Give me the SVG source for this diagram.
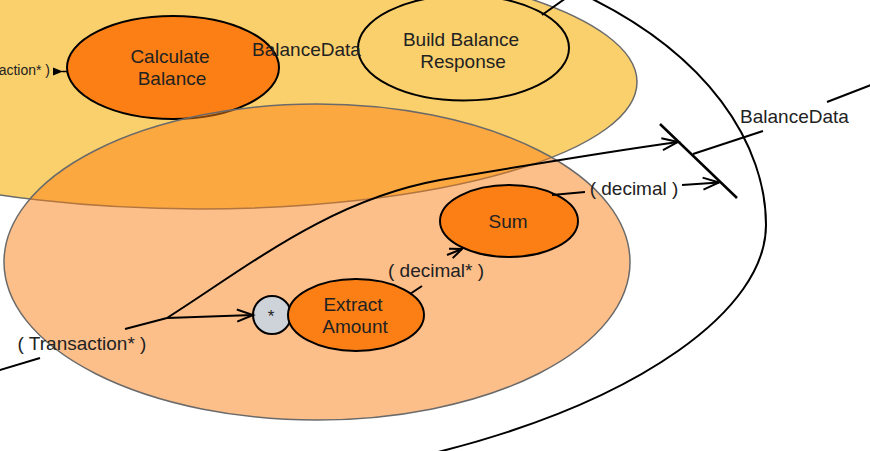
<svg xmlns="http://www.w3.org/2000/svg" width="870" height="451" viewBox="0 0 870 451">
<defs>
<style>
.t{font-family:"Liberation Sans",Arial,sans-serif;font-size:19px;fill:#222;text-anchor:middle}
.node{stroke:#000;stroke-width:2}
.orange{fill:#FC7F15}
.group{stroke:#6a6a6a;stroke-width:1.5}
.c{fill:none;stroke:#000;stroke-width:2}
</style>
<marker id="chev" viewBox="0 0 18 14" refX="17" refY="7" markerWidth="18" markerHeight="14" markerUnits="userSpaceOnUse" orient="auto" overflow="visible">
<path d="M1,1 L17,7 L1,13" fill="none" stroke="#000" stroke-width="2"/>
</marker>
<marker id="chevs" viewBox="0 0 14 12" refX="13" refY="6" markerWidth="14" markerHeight="12" markerUnits="userSpaceOnUse" orient="auto" overflow="visible">
<path d="M1,1 L13,6 L1,11" fill="none" stroke="#000" stroke-width="2"/>
</marker>
</defs>
<rect width="870" height="451" fill="#fff"/>
<g id="outer">
<path d="M560,-16 C715,50 766,150 766,225 C766,310 640,400 442,451 L300,488" fill="#fff" stroke="#000" stroke-width="2"/>
</g>
<g id="group-balance">
<ellipse cx="200" cy="82" rx="437" ry="127" fill="#FAD06C" class="group"/>
<text class="t" x="50" y="75" style="font-size:14px;text-anchor:end">action* )</text>
<polygon points="53,67.5 63,71.5 53,75.5" fill="#000"/>
<line x1="62" y1="71.5" x2="68" y2="71.5" stroke="#000" stroke-width="1.5"/>
</g>
<g id="node-calc">
<ellipse cx="173" cy="67.5" rx="106" ry="51.5" class="node orange"/>
<text class="t" x="170" y="63">Calculate</text>
<text class="t" x="172" y="85">Balance</text>
</g>
<g id="node-build">
<ellipse cx="463.5" cy="48" rx="105.5" ry="52.5" class="node" fill="#FAD06C"/>
<text class="t" x="461" y="46">Build Balance</text>
<text class="t" x="463" y="68">Response</text>
</g>
<text class="t" x="306.5" y="56">BalanceData</text>
<g id="group-calc">
<ellipse cx="317" cy="262" rx="313" ry="158" fill="#FC7F15" fill-opacity="0.5" class="group"/>
</g>
<g id="node-star">
<circle cx="272" cy="315" r="19" class="node" fill="#CED3DA"/>
<text class="t" x="271" y="322" style="font-size:17px">*</text>
</g>
<g id="node-extract">
<ellipse cx="356" cy="315" rx="68" ry="36" class="node orange"/>
<text class="t" x="353" y="311">Extract</text>
<text class="t" x="355" y="333">Amount</text>
</g>
<g id="node-sum">
<ellipse cx="509" cy="221" rx="69" ry="36" class="node orange"/>
<text class="t" x="508" y="228">Sum</text>
</g>
<g id="connectors">
<line x1="-20" y1="376" x2="40" y2="358" class="c"/>
<text class="t" x="82" y="350">( Transaction* )</text>
<line x1="125" y1="329" x2="167" y2="318" class="c"/>
<line x1="167" y1="318" x2="253" y2="315" class="c" marker-end="url(#chev)"/>
<path d="M167,318 C250,265 330,200 440,180 C540,163 620,150 678,142" class="c" marker-end="url(#chev)"/>
<line x1="410" y1="294" x2="422" y2="286" class="c"/>
<text class="t" x="436" y="277">( decimal* )</text>
<line x1="447" y1="255" x2="462" y2="249" class="c" marker-end="url(#chevs)"/>
<line x1="552" y1="195" x2="585" y2="192" class="c"/>
<text class="t" x="634" y="195">( decimal )</text>
<line x1="682" y1="185" x2="719" y2="182.5" class="c" marker-end="url(#chev)"/>
<line x1="660" y1="124" x2="737" y2="198" stroke="#000" stroke-width="2.5"/>
<line x1="693" y1="154" x2="763" y2="131" class="c"/>
<text class="t" x="794.5" y="123">BalanceData</text>
<line x1="827" y1="102" x2="876" y2="83" class="c"/>
<line x1="542" y1="15" x2="566" y2="-2" class="c"/>
</g>
</svg>
